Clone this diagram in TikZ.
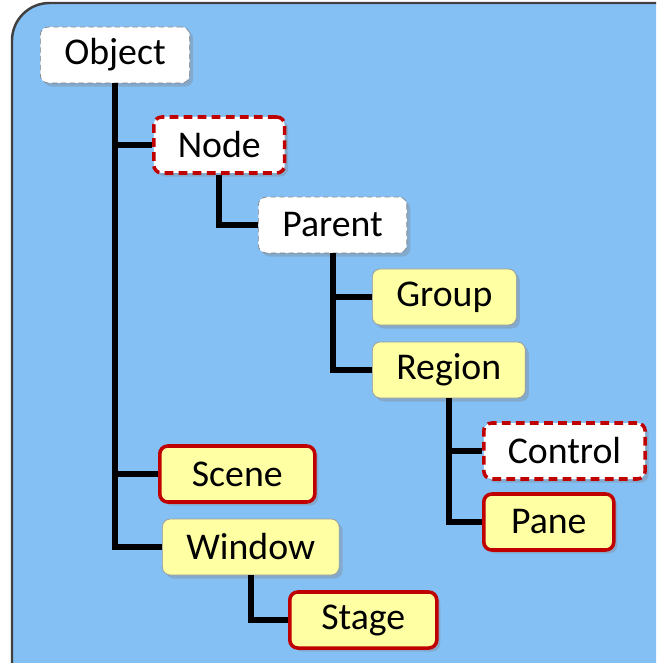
\documentclass[tikz,border=0pt]{standalone}
\usepackage{fontspec}
\setmainfont{Carlito}
\usepackage{tikz}
\usetikzlibrary{shadows}
\definecolor{skyblue}{RGB}{133,192,245}
\definecolor{paleyellow}{RGB}{255,255,163}
\definecolor{darkred}{RGB}{192,0,0}
\tikzstyle{box}=[rectangle, rounded corners=0.16cm, minimum height=1.12cm, inner xsep=0.48cm, anchor=west, font=\fontsize{21.5}{25}\selectfont, drop shadow={opacity=0.35, shadow xshift=2pt, shadow yshift=-2pt}]
\tikzstyle{boxw}=[box, fill=white, draw=gray, densely dashed, thin]
\tikzstyle{boxr}=[box, fill=white, draw=darkred, dash pattern=on 5pt off 3pt, line width=2pt]
\tikzstyle{boxy}=[box, fill=paleyellow, draw=gray!80, thin]
\tikzstyle{boxyr}=[box, fill=paleyellow, draw=darkred, line width=2pt]
\tikzstyle{link}=[line width=3.4pt, black]

\begin{document}
\begin{tikzpicture}

\useasboundingbox (0,0) rectangle (13.12,-13.26);
\clip (0,0) rectangle (13.12,-13.26);
\draw [fill=skyblue, draw=black!75, line width=1.4pt, rounded corners=0.75cm] (0.24,-0.06) rectangle (14,-14);

\node (Obj)  [boxw]  at (0.80,-1.10) {Object};
\node (Nd)   [boxr]  at (3.04,-2.90) {Node};
\node (Par)  [boxw]  at (5.16,-4.50) {Parent};
\node (Grp)  [boxy]  at (7.44,-5.94) {Group};
\node (Reg)  [boxy]  at (7.44,-7.40) {Region};
\node (Ctl)  [boxr]  at (9.64,-9.02) {Control};
\node (Pan)  [boxyr, minimum width=2.6cm] at (9.64,-10.44) {Pane};
\node (Scn)  [boxyr, minimum width=3.1cm] at (3.16,-9.48) {Scene};
\node (Win)  [boxy]  at (3.24,-10.94) {Window};
\node (Stg)  [boxyr, minimum width=2.94cm] at (5.76,-12.40) {Stage};

\draw [link] (Obj.south) |- (Nd.west);
\draw [link] (Obj.south) |- (Scn.west);
\draw [link] (Obj.south) |- (Win.west);
\draw [link] (Nd.south) |- (Par.west);
\draw [link] (Par.south) |- (Grp.west);
\draw [link] (Par.south) |- (Reg.west);
\draw [link] (Reg.south) |- (Ctl.west);
\draw [link] (Reg.south) |- (Pan.west);
\draw [link] (Win.south) |- (Stg.west);

\end{tikzpicture}
\end{document}
